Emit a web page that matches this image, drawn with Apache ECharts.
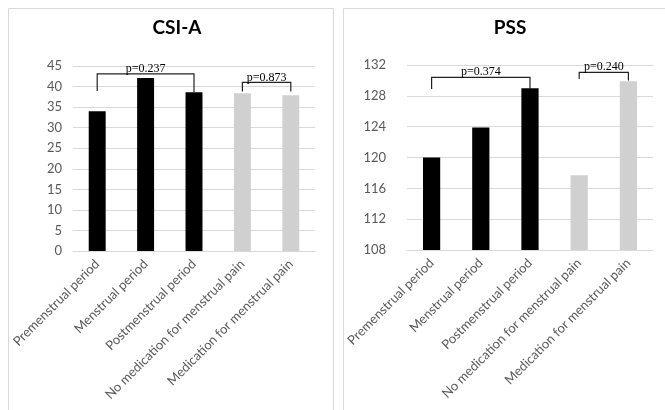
<!DOCTYPE html>
<html>
<head>
<meta charset="utf-8">
<script src="https://cdn.jsdelivr.net/npm/echarts@6/dist/echarts.min.js"></script>
<style>html,body{margin:0;padding:0;background:#fff;}#c{width:665px;height:410px;}</style>
</head>
<body>
<div id="c"></div>
<script>
// ---- data ----
var categories = ['Premenstrual period', 'Menstrual period', 'Postmenstrual period', 'No medication for menstrual pain', 'Medication for menstrual pain'];
var csiTitle = 'CSI-A';
var pssTitle = 'PSS';
var csiValues = [34.0, 42.1, 38.6, 38.4, 37.9];
var pssValues = [120.0, 123.9, 129.0, 117.7, 129.9];
var csiTicks = [0, 5, 10, 15, 20, 25, 30, 35, 40, 45];
var pssTicks = [108, 112, 116, 120, 124, 128, 132];
// brackets: [fromIndex, toIndex, topValue, leftLegEnd, rightLegEnd, label]
var csiBrackets = [
  [-0.1, 2, 43.1, 38.9, 38.6, 'p=0.237'],
  [3, 4, 41.0, 38.8, 38.8, 'p=0.873']
];
var pssBrackets = [
  [-0.28, 2, 130.4, 128.9, 128.9, 'p=0.374'],
  [3, 4, 131.05, 130.2, 130.0, 'p=0.240']
];
// number of "period" categories drawn black; remainder gray
var periodCount = 3;

// ---- chart ----
var chart = echarts.init(document.getElementById('c'), null, {renderer: 'canvas'});
var SANS = 'Lato';
var LABEL = '#595959';
var GRID = '#d9d9d9';

function bracketRender(params, api) {
  var a = api.coord([api.value(0), api.value(2)]);
  var b = api.coord([api.value(1), api.value(2)]);
  var la = api.coord([api.value(0), api.value(3)]);
  var rb = api.coord([api.value(1), api.value(4)]);
  var label = api.value(5);
  return {
    type: 'group',
    children: [
      {type: 'polyline', shape: {points: [[la[0], la[1]], [a[0], a[1]], [b[0], b[1]], [rb[0], rb[1]]]},
       style: {stroke: '#222', lineWidth: 1.2, fill: null}},
      {type: 'text', style: {text: label, x: (a[0] + b[0]) / 2, y: a[1] + 1, align: 'center', verticalAlign: 'bottom',
        font: '12px "Liberation Serif"', fill: '#000'}}
    ]
  };
}

function xAxisCfg(gi) {
  return {
    type: 'category', gridIndex: gi, data: categories,
    axisLine: {show: true, lineStyle: {color: GRID}},
    axisTick: {show: false},
    axisLabel: {rotate: 45, color: LABEL, fontFamily: SANS, fontSize: 13, margin: 11, interval: 0}
  };
}
function yAxisCfg(gi, ticks, margin) {
  return {
    type: 'value', gridIndex: gi,
    min: ticks[0], max: ticks[ticks.length - 1], interval: ticks[1] - ticks[0],
    axisLine: {show: false}, axisTick: {show: false},
    splitLine: {lineStyle: {color: GRID}},
    axisLabel: {color: LABEL, fontFamily: SANS, fontSize: 13, margin: margin}
  };
}
function barColor(p) { return p.dataIndex < periodCount ? '#000000' : '#d0d0d0'; }

chart.setOption({
  animation: false,
  backgroundColor: '#fff',
  title: [
    {text: csiTitle, left: 172, top: 13, textAlign: 'center',
     textStyle: {fontFamily: SANS, fontWeight: 'bold', fontSize: 19, color: '#000'}},
    {text: pssTitle, left: 505, top: 13, textAlign: 'center',
     textStyle: {fontFamily: SANS, fontWeight: 'bold', fontSize: 19, color: '#000'}}
  ],
  graphic: [
    {type: 'rect', shape: {x: 8.5, y: 8.5, width: 325, height: 420}, style: {fill: null, stroke: GRID, lineWidth: 1}, silent: true, z: -1},
    {type: 'rect', shape: {x: 343.5, y: 8.5, width: 330, height: 420}, style: {fill: null, stroke: GRID, lineWidth: 1}, silent: true, z: -1}
  ],
  grid: [
    {left: 73, top: 66, width: 242, height: 185},
    {left: 407, top: 65, width: 246, height: 185}
  ],
  xAxis: [xAxisCfg(0), xAxisCfg(1)],
  yAxis: [yAxisCfg(0, csiTicks, 11), yAxisCfg(1, pssTicks, 21)],
  series: [
    {type: 'bar', xAxisIndex: 0, yAxisIndex: 0, data: csiValues, barWidth: '35%', itemStyle: {color: barColor}},
    {type: 'bar', xAxisIndex: 1, yAxisIndex: 1, data: pssValues, barWidth: '35%', itemStyle: {color: barColor}},
    {type: 'custom', xAxisIndex: 0, yAxisIndex: 0, data: csiBrackets, renderItem: bracketRender, clip: false, z: 5,
     encode: {x: [0, 1], y: [2, 3, 4]}},
    {type: 'custom', xAxisIndex: 1, yAxisIndex: 1, data: pssBrackets, renderItem: bracketRender, clip: false, z: 5,
     encode: {x: [0, 1], y: [2, 3, 4]}}
  ]
});
</script>
</body>
</html>
